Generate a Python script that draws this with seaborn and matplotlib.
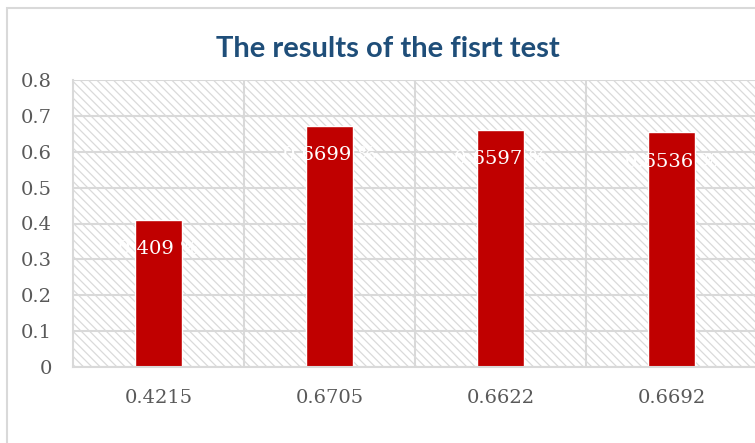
import matplotlib
matplotlib.use("Agg")
import matplotlib.pyplot as plt
import seaborn as sns
import pandas as pd
from matplotlib.patches import Rectangle

categories = ["0.4215", "0.6705", "0.6622", "0.6692"]
values = [0.411, 0.671, 0.660, 0.654]
value_labels = ["0.409 %", "0.6699 %", "0.6597 %", "0.6536 %"]
yticks = [0, 0.1, 0.2, 0.3, 0.4, 0.5, 0.6, 0.7, 0.8]
ytick_labels = ["0", "0.1", "0.2", "0.3", "0.4", "0.5", "0.6", "0.7", "0.8"]
title = "The results of the fisrt test"

sns.set_theme(style="white")
plt.rcParams["hatch.linewidth"] = 0.9

df = pd.DataFrame({"cat": categories, "val": values})

W, H = 755, 443
fig = plt.figure(figsize=(W / 100, H / 100), dpi=100)
fig.patch.set_facecolor("white")

L, R, T, B = 73, 757, 80, 367
ax = fig.add_axes([L / W, 1 - B / H, (R - L) / W, (B - T) / H])

grid_c = "#d9d9d9"
ax.add_patch(Rectangle((0, 0), 1, 1, transform=ax.transAxes, facecolor="white",
                       edgecolor="#dadada", hatch="\\\\\\\\", lw=0, zorder=-1))

sns.barplot(data=df, x="cat", y="val", color="#C00000", width=0.27,
            saturation=1, ax=ax, zorder=2)

ax.set_xlim(-0.5, 3.5)
ax.set_ylim(0, 0.8)
ax.set_yticks(yticks)
ax.set_yticklabels(ytick_labels)
ax.set_xticks([0.5, 1.5, 2.5], minor=True)
ax.set_axisbelow(True)
ax.grid(axis="y", which="major", color=grid_c, lw=1.5)
ax.grid(axis="x", which="minor", color=grid_c, lw=1.5)
ax.set_xlabel("")
ax.set_ylabel("")
for s in ["top", "right"]:
    ax.spines[s].set_visible(False)
for s in ["left", "bottom"]:
    ax.spines[s].set_color(grid_c)
    ax.spines[s].set_linewidth(1.5)
ax.tick_params(axis="both", which="both", length=0)
ax.tick_params(axis="y", pad=15)
ax.tick_params(axis="x", pad=16)
for lab in ax.get_xticklabels() + ax.get_yticklabels():
    lab.set_fontfamily("DejaVu Serif")
    lab.set_fontsize(14)
    lab.set_color("#595959")

for i, (v, t) in enumerate(zip(values, value_labels)):
    ax.annotate(t, (i, v), xytext=(0, -21), textcoords="offset points",
                ha="center", va="center", color="white", fontsize=14,
                fontfamily="DejaVu Serif", zorder=3)

fig.patches.append(Rectangle((7 / W, -0.1), 1.2, 1 - 8 / H + 0.1,
                             transform=fig.transFigure, fill=False,
                             edgecolor=grid_c, lw=1.5))

fig.text(388 / W, 1 - 49 / H, title, ha="center", va="center",
         fontsize=21, fontweight="bold", color="#1F4E79", fontfamily="Lato")

fig.savefig("out.png", dpi=100)
